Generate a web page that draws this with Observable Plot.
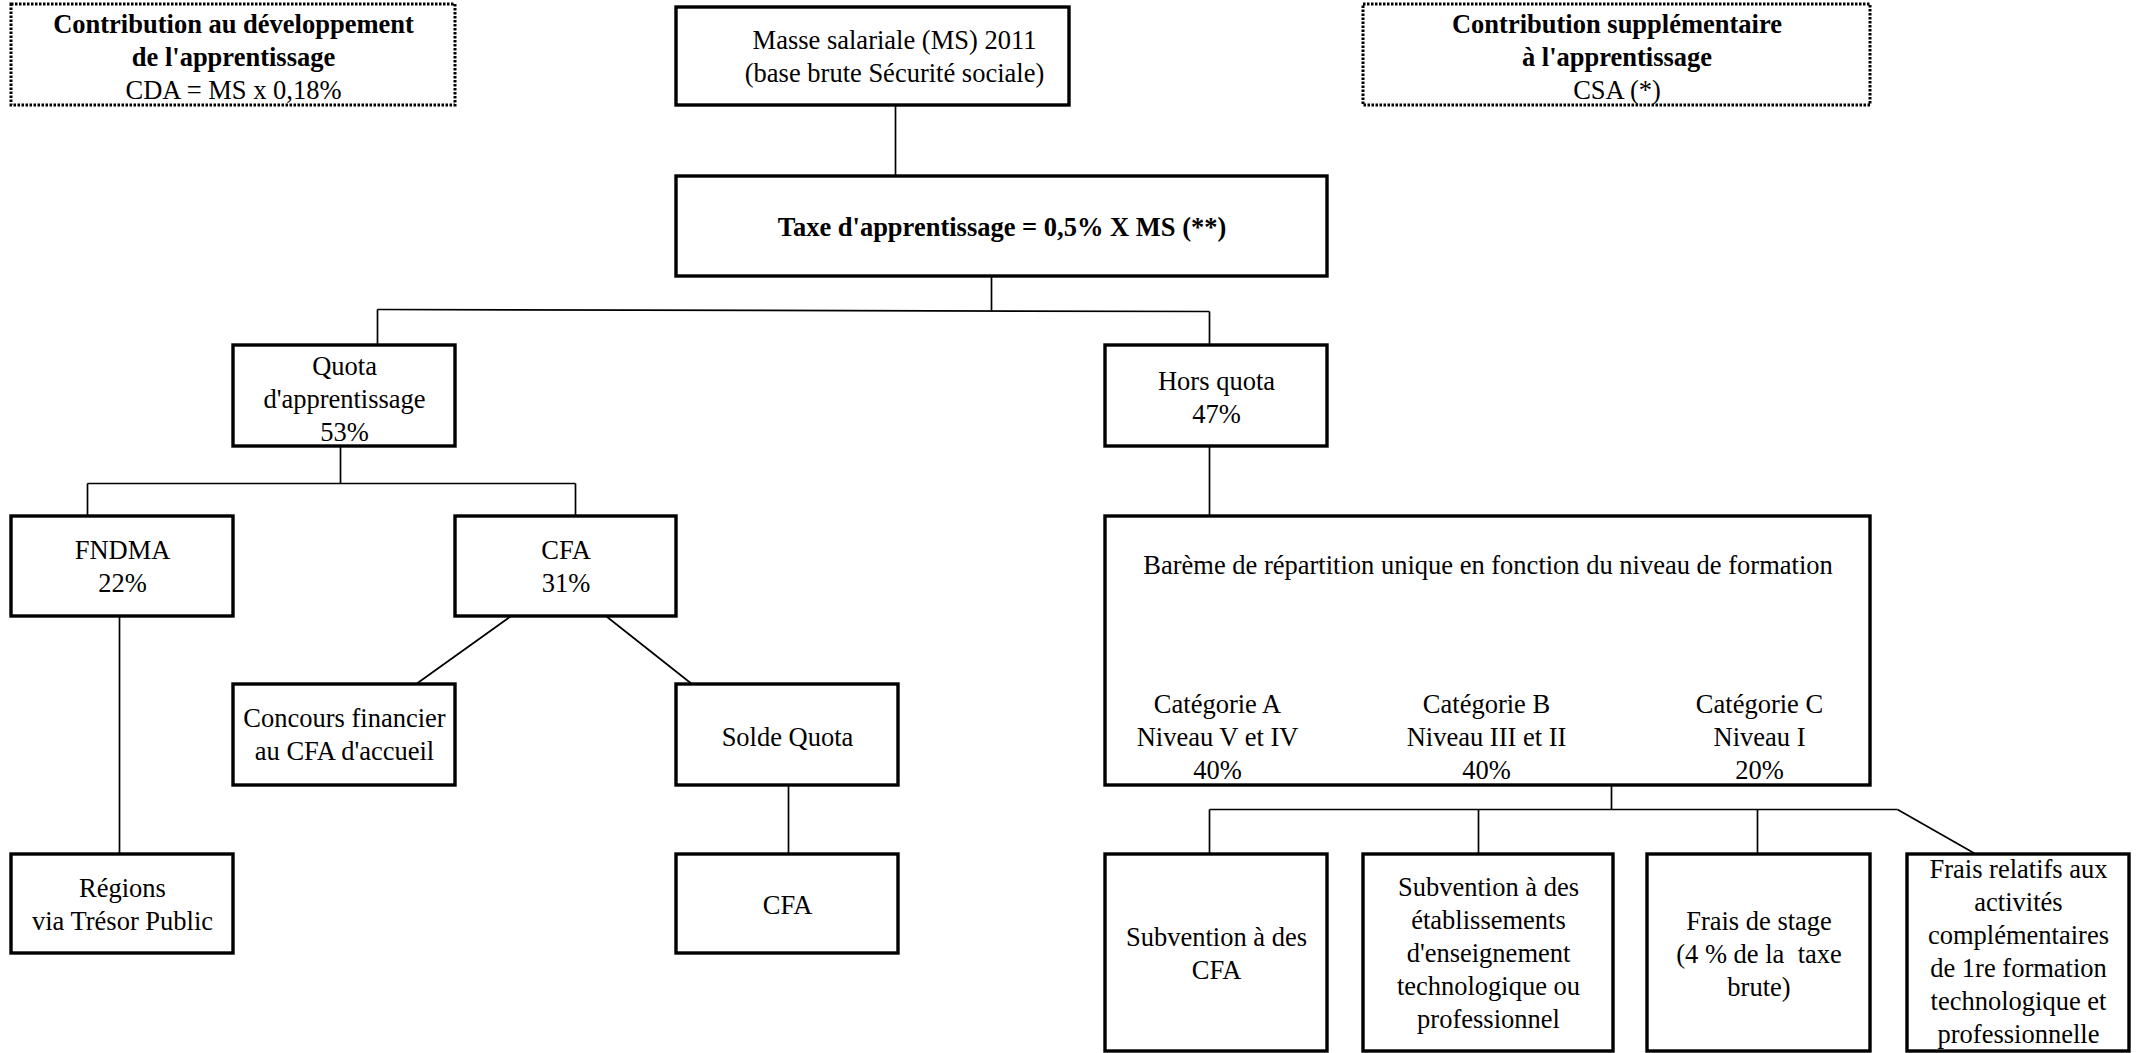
<!DOCTYPE html>
<html>
<head>
<meta charset="utf-8">
<script src="https://cdn.jsdelivr.net/npm/d3@7"></script>
<script src="https://cdn.jsdelivr.net/npm/@observablehq/plot@0.6"></script>
<style>
  html, body { margin: 0; padding: 0; background: #fff; }
  #chart svg { display: block; }
  #chart svg text { font-family: "Liberation Serif", "Times New Roman", "DejaVu Serif", serif !important; }
</style>
</head>
<body>
<div id="chart"></div>
<script>
// ---- Diagram content (labels) ----
const boxIds = ["cda","ms","csa","taxe","quota","hors","fndma","cfa","bareme","concours","solde","regions","cfa2","sub1","sub2","stage","frais"];
const boxLabels = {
  cda: [["Contribution au développement", true], ["de l'apprentissage", true], ["CDA = MS x 0,18%", false]],
  ms: [["Masse salariale (MS) 2011", false], ["(base brute Sécurité sociale)", false]],
  csa: [["Contribution supplémentaire", true], ["à l'apprentissage", true], ["CSA (*)", false]],
  taxe: [["Taxe d'apprentissage = 0,5% X MS (**)", true]],
  quota: [["Quota", false], ["d'apprentissage", false], ["53%", false]],
  hors: [["Hors quota", false], ["47%", false]],
  fndma: [["FNDMA", false], ["22%", false]],
  cfa: [["CFA", false], ["31%", false]],
  bareme: [["Barème de répartition unique en fonction du niveau de formation", false]],
  concours: [["Concours financier", false], ["au CFA d'accueil", false]],
  solde: [["Solde Quota", false]],
  regions: [["Régions", false], ["via Trésor Public", false]],
  cfa2: [["CFA", false]],
  sub1: [["Subvention à des", false], ["CFA", false]],
  sub2: [["Subvention à des", false], ["établissements", false], ["d'enseignement", false], ["technologique ou", false], ["professionnel", false]],
  stage: [["Frais de stage", false], ["(4 % de la  taxe", false], ["brute)", false]],
  frais: [["Frais relatifs aux", false], ["activités", false], ["complémentaires", false], ["de 1re formation", false], ["technologique et", false], ["professionnelle", false]]
};
const categories = ["Catégorie A", "Catégorie B", "Catégorie C"];
const niveaux = ["Niveau V et IV", "Niveau III et II", "Niveau I"];
const shares = ["40%", "40%", "20%"];

// ---- Diagram layout (diagram units) ----
const boxLeft   = {cda:11, ms:676, csa:1363, taxe:676, quota:233, hors:1105, fndma:11, cfa:455, bareme:1105, concours:233, solde:676, regions:11, cfa2:676, sub1:1105, sub2:1363, stage:1647, frais:1907};
const boxRight  = {cda:455, ms:1069, csa:1870, taxe:1327, quota:455, hors:1327, fndma:233, cfa:676, bareme:1870, concours:455, solde:898, regions:233, cfa2:898, sub1:1327, sub2:1613, stage:1870, frais:2129};
const boxTop    = {cda:4, ms:7, csa:4, taxe:176, quota:345, hors:345, fndma:516, cfa:516, bareme:516, concours:684, solde:684, regions:854, cfa2:854, sub1:854, sub2:854, stage:854, frais:854};
const boxBottom = {cda:105, ms:105, csa:105, taxe:276, quota:446, hors:446, fndma:616, cfa:616, bareme:785, concours:785, solde:785, regions:953, cfa2:953, sub1:1051, sub2:1051, stage:1051, frais:1051};
const dottedBoxes = ["cda", "csa"];
const textCenterY = {cda:57, ms:57, csa:57, taxe:227, quota:399, hors:398, fndma:567, cfa:567, bareme:565, concours:735, solde:737, regions:905, cfa2:905, sub1:954, sub2:953, stage:954, frais:952};
const textCenterX = {ms:894};
const categoryX = [1217, 1486, 1759];
const categoryY = 737;
const lineStep = 33;

// connectors: [x1, y1, x2, y2]
const connectors = [
  [895, 105, 895, 176],
  [991, 276, 991, 310], [377, 309, 1209, 311], [377, 309, 377, 345], [1209, 311, 1209, 345],
  [340, 446, 340, 483], [87, 483, 575, 483], [87, 483, 87, 516], [575, 483, 575, 516],
  [1209, 446, 1209, 516],
  [119, 616, 119, 854],
  [510, 616, 415, 684], [606, 616, 692, 684],
  [788, 785, 788, 854],
  [1611, 785, 1611, 809], [1209, 809, 1897, 809], [1209, 809, 1209, 854], [1478, 809, 1478, 854], [1757, 809, 1757, 854], [1897, 809, 1976, 854]
];

// ---- Build tables ----
const boxes = boxIds.map(id => ({id, x1: boxLeft[id], x2: boxRight[id], y1: boxTop[id], y2: boxBottom[id], dotted: dottedBoxes.includes(id)}));
const textRows = [];
for (const id of boxIds) {
  const lines = boxLabels[id];
  const cx = textCenterX[id] ?? (boxLeft[id] + boxRight[id]) / 2;
  lines.forEach(([t, bold], i) => {
    textRows.push({x: cx, y: textCenterY[id] + (i - (lines.length - 1) / 2) * lineStep, text: t, bold});
  });
}
categories.forEach((c, i) => {
  [c, niveaux[i], shares[i]].forEach((t, j) => {
    textRows.push({x: categoryX[i], y: categoryY + (j - 1) * lineStep, text: t, bold: false});
  });
});
const links = connectors.map(([x1, y1, x2, y2]) => ({x1, y1, x2, y2}));

const font = "Liberation Serif";
const chart = Plot.plot({
  width: 2140,
  height: 1053,
  margin: 0,
  x: {domain: [0, 2140], range: [0, 2140], axis: null},
  y: {domain: [0, 1053], range: [0, 1053], axis: null},
  style: {background: "white"},
  marks: [
    Plot.link(links, {x1: "x1", y1: "y1", x2: "x2", y2: "y2", stroke: "black", strokeWidth: 1.7}),
    Plot.rect(boxes.filter(d => !d.dotted), {x1: "x1", x2: "x2", y1: "y1", y2: "y2", fill: "white", stroke: "black", strokeWidth: 3.4}),
    Plot.rect(boxes.filter(d => d.dotted), {x1: "x1", x2: "x2", y1: "y1", y2: "y2", fill: "white", stroke: "black", strokeWidth: 3, strokeDasharray: "2.5,1.5"}),
    Plot.text(textRows.filter(d => !d.bold), {x: "x", y: "y", text: "text", fontSize: 26.5, fontFamily: font, fill: "black", textAnchor: "middle", lineAnchor: "middle"}),
    Plot.text(textRows.filter(d => d.bold), {x: "x", y: "y", text: "text", fontSize: 26.5, fontWeight: "bold", fontFamily: font, fill: "black", textAnchor: "middle", lineAnchor: "middle"})
  ]
});
document.getElementById("chart").append(chart);
</script>
</body>
</html>
